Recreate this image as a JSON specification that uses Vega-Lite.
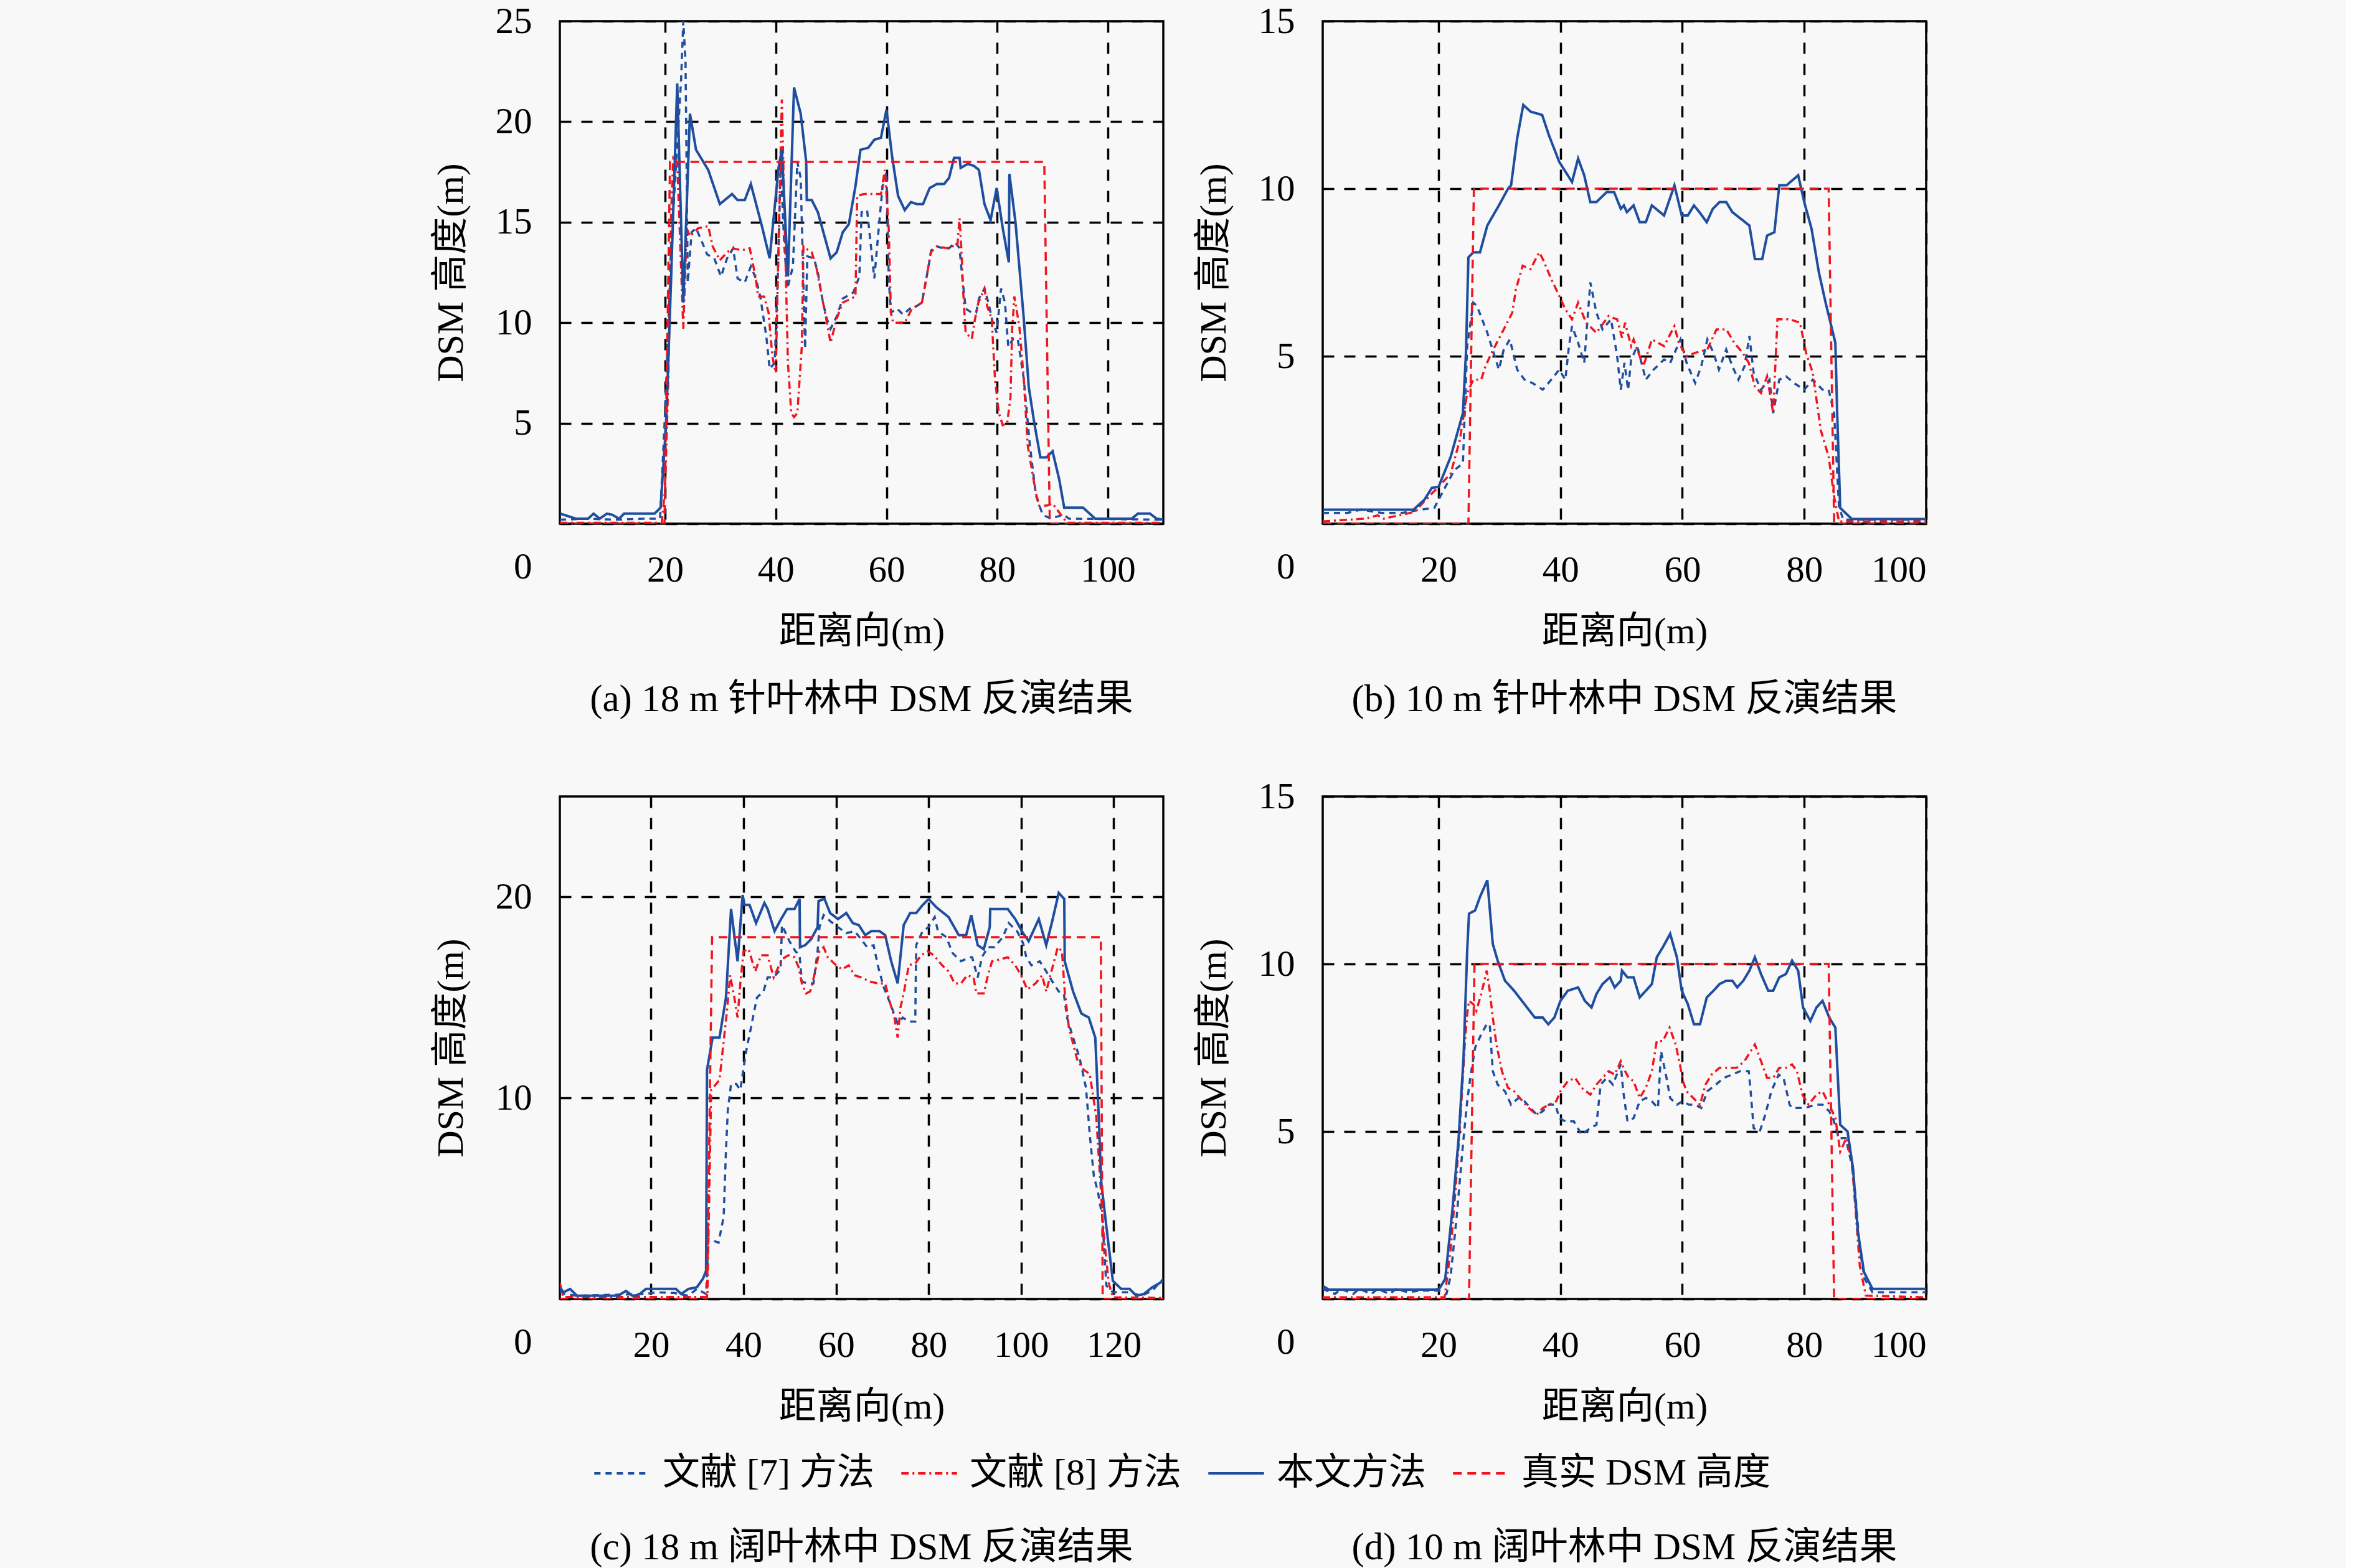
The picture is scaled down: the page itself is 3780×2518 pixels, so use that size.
{
  "$schema": "https://vega.github.io/schema/vega-lite/v6.json",
  "background": "#f8f8f8",
  "padding": {"left": 692, "top": 3, "right": 672, "bottom": 0},
  "autosize": {"type": "pad"},
  "config": {
    "font": "Liberation Serif, Noto Sans CJK SC",
    "view": {"stroke": "black", "strokeWidth": 3.5},
    "axis": {
      "ticks": false, "domain": false, "grid": true,
      "gridColor": "black", "gridDash": [18, 16], "gridWidth": 3.5, "gridOpacity": 1,
      "labelFont": "Liberation Serif", "labelFontSize": 59, "labelColor": "black",
      "labelPadding": 45,
      "titleFont": "Liberation Serif, Noto Sans CJK SC", "titleFontSize": 60,
      "titleFontWeight": "normal", "titleColor": "black", "titlePadding": 40
    },
    "title": {
      "orient": "bottom", "anchor": "middle", "frame": "group",
      "font": "Liberation Serif, Noto Sans CJK SC", "fontSize": 61,
      "fontWeight": "normal", "color": "black"
    },
    "legend": {
      "orient": "none", "legendX": 53, "legendY": 2285,
      "direction": "horizontal", "title": null,
      "symbolType": "stroke", "symbolSize": 8000, "symbolStrokeWidth": 4,
      "labelFont": "Liberation Serif, Noto Sans CJK SC", "labelFontSize": 60,
      "labelColor": "black", "labelOffset": 18, "labelLimit": 0, "columnPadding": 35
    }
  },
  "datasets": {
    "a7": [{"x":1,"y":0.2},{"x":6,"y":0.25},{"x":11,"y":0.2},{"x":16,"y":0.25},{"x":19.1,"y":0.25},{"x":20,"y":5.5},{"x":21.1,"y":13.8},{"x":22.2,"y":18.8},{"x":22.9,"y":22.1},{"x":23.3,"y":25},{"x":23.7,"y":23},{"x":24.1,"y":12},{"x":24.8,"y":14.5},{"x":25.6,"y":14.7},{"x":26.7,"y":14},{"x":27.6,"y":13.4},{"x":28.9,"y":13.2},{"x":30.1,"y":12.3},{"x":31.2,"y":13.2},{"x":32.3,"y":13.7},{"x":33.1,"y":12.2},{"x":34.4,"y":12},{"x":35.5,"y":12.8},{"x":36.4,"y":12.2},{"x":37.2,"y":11.3},{"x":38.3,"y":9.3},{"x":38.9,"y":7.7},{"x":39.8,"y":8},{"x":40.4,"y":12.5},{"x":40.9,"y":18},{"x":41.5,"y":14},{"x":42.1,"y":11.7},{"x":43.1,"y":12.8},{"x":43.9,"y":18},{"x":44.5,"y":17.2},{"x":45.3,"y":8.7},{"x":45.7,"y":13.3},{"x":46.9,"y":13.2},{"x":47.6,"y":12.5},{"x":48.4,"y":11.2},{"x":49.1,"y":10.3},{"x":49.9,"y":9.7},{"x":51,"y":10.3},{"x":52.1,"y":11.2},{"x":54,"y":11.5},{"x":55.1,"y":12.3},{"x":55.5,"y":15.5},{"x":56.5,"y":15.6},{"x":57.8,"y":12.2},{"x":58.6,"y":14.7},{"x":59.3,"y":16.8},{"x":60,"y":17.5},{"x":60.4,"y":12.2},{"x":60.8,"y":10.5},{"x":61.9,"y":10.7},{"x":63,"y":10.4},{"x":64.2,"y":10.7},{"x":65.3,"y":10.8},{"x":66.4,"y":11},{"x":67.2,"y":12.2},{"x":68.1,"y":13.6},{"x":69.1,"y":13.8},{"x":70.2,"y":13.7},{"x":71.3,"y":13.7},{"x":72.4,"y":14},{"x":73.2,"y":13.7},{"x":73.6,"y":12.5},{"x":74.3,"y":10.7},{"x":75.4,"y":10.5},{"x":76.2,"y":10.5},{"x":76.7,"y":11.2},{"x":77.7,"y":11.7},{"x":78.4,"y":11},{"x":79.2,"y":10},{"x":79.9,"y":9.5},{"x":80.7,"y":11.7},{"x":81.4,"y":11},{"x":82,"y":8.8},{"x":82.9,"y":9.2},{"x":83.7,"y":9.2},{"x":84.8,"y":7.2},{"x":85.9,"y":3.9},{"x":87,"y":1.4},{"x":88.2,"y":0.45},{"x":89.7,"y":0.25},{"x":91.9,"y":0.45},{"x":93,"y":0.25},{"x":110,"y":0.2}],
    "a8": [{"x":1,"y":0.05},{"x":19.4,"y":0.05},{"x":20,"y":1.7},{"x":20.6,"y":7.2},{"x":21.1,"y":15.5},{"x":21.5,"y":18.2},{"x":22.2,"y":18},{"x":23.3,"y":9.7},{"x":23.9,"y":14.7},{"x":24.5,"y":14.3},{"x":26,"y":14.7},{"x":27.8,"y":14.8},{"x":28.6,"y":13.8},{"x":29.9,"y":13.1},{"x":31.2,"y":13.5},{"x":32.3,"y":13.7},{"x":33.8,"y":13.6},{"x":35.3,"y":13.7},{"x":36.4,"y":12.2},{"x":36.8,"y":11.3},{"x":37.9,"y":11.3},{"x":38.7,"y":10.5},{"x":39.4,"y":8.3},{"x":40,"y":7.5},{"x":40.5,"y":13.8},{"x":41.1,"y":21.1},{"x":41.7,"y":13.8},{"x":42.2,"y":8},{"x":42.8,"y":5.5},{"x":43.3,"y":5.3},{"x":43.9,"y":5.5},{"x":44.7,"y":8.8},{"x":45,"y":13.8},{"x":45.4,"y":13.7},{"x":46.5,"y":13.5},{"x":47.3,"y":12.8},{"x":48.4,"y":11.2},{"x":49.1,"y":10.2},{"x":49.9,"y":9},{"x":51,"y":10.2},{"x":52.1,"y":11},{"x":54.4,"y":11.3},{"x":54.7,"y":16.3},{"x":55.9,"y":16.4},{"x":59,"y":16.4},{"x":59.7,"y":17.6},{"x":60.4,"y":14.7},{"x":60.8,"y":10.5},{"x":61.2,"y":10},{"x":63.3,"y":10},{"x":64.6,"y":10.7},{"x":66.4,"y":11},{"x":67.2,"y":12.2},{"x":68,"y":13.5},{"x":69.1,"y":13.8},{"x":71,"y":13.7},{"x":71.7,"y":13.8},{"x":72.8,"y":13.8},{"x":73.2,"y":15.2},{"x":73.5,"y":13.8},{"x":73.9,"y":11.3},{"x":74.3,"y":9.5},{"x":75.4,"y":9.2},{"x":76,"y":10.2},{"x":76.6,"y":11},{"x":77.7,"y":11.7},{"x":78.2,"y":10.8},{"x":79,"y":10.2},{"x":79.6,"y":7.2},{"x":80.3,"y":5.5},{"x":81,"y":4.9},{"x":81.8,"y":5},{"x":82.4,"y":6.3},{"x":82.7,"y":9.7},{"x":83.1,"y":11.3},{"x":84,"y":9.8},{"x":84.8,"y":7.2},{"x":85.5,"y":3.9},{"x":87,"y":1.5},{"x":87.6,"y":0.9},{"x":88.9,"y":0.9},{"x":90,"y":1},{"x":90.8,"y":0.7},{"x":92.6,"y":0.05},{"x":110,"y":0.05}],
    "ao": [{"x":1.1,"y":0.5},{"x":3.9,"y":0.25},{"x":6.1,"y":0.25},{"x":7.1,"y":0.5},{"x":8.2,"y":0.25},{"x":9.5,"y":0.5},{"x":10.4,"y":0.45},{"x":11.7,"y":0.25},{"x":12.6,"y":0.5},{"x":18.1,"y":0.5},{"x":19.2,"y":0.8},{"x":20.2,"y":5},{"x":21.1,"y":12.2},{"x":22.2,"y":21.9},{"x":23.3,"y":11},{"x":24.5,"y":20.4},{"x":25.6,"y":18.6},{"x":27.8,"y":17.6},{"x":29.9,"y":15.9},{"x":32.1,"y":16.4},{"x":33.1,"y":16.1},{"x":34.4,"y":16.1},{"x":35.5,"y":16.9},{"x":37.5,"y":14.8},{"x":38.9,"y":13.2},{"x":40.5,"y":17.7},{"x":41.1,"y":18.6},{"x":42.2,"y":12.3},{"x":43.3,"y":21.7},{"x":44.5,"y":20.4},{"x":45.5,"y":18},{"x":45.6,"y":16.1},{"x":46.5,"y":16.1},{"x":47.6,"y":15.5},{"x":48.8,"y":14.3},{"x":49.9,"y":13.2},{"x":51,"y":13.5},{"x":52.1,"y":14.5},{"x":53.2,"y":14.9},{"x":54.4,"y":16.8},{"x":55.3,"y":18.6},{"x":56.7,"y":18.7},{"x":57.8,"y":19.1},{"x":59,"y":19.2},{"x":60,"y":20.6},{"x":61,"y":18.3},{"x":62.1,"y":16.3},{"x":63.3,"y":15.6},{"x":64.4,"y":16},{"x":65.5,"y":15.9},{"x":66.6,"y":15.9},{"x":67.8,"y":16.7},{"x":69.1,"y":16.9},{"x":70.4,"y":16.9},{"x":71.3,"y":17.2},{"x":72.2,"y":18.2},{"x":73.2,"y":18.2},{"x":73.4,"y":17.7},{"x":74.7,"y":17.9},{"x":75.8,"y":17.8},{"x":76.7,"y":17.6},{"x":77.7,"y":15.9},{"x":78.8,"y":15.1},{"x":79.9,"y":16.7},{"x":81,"y":14.7},{"x":82.1,"y":13},{"x":82.2,"y":17.4},{"x":83.3,"y":15},{"x":84.8,"y":10.2},{"x":85.7,"y":6.8},{"x":86.7,"y":5},{"x":87.8,"y":3.3},{"x":88.9,"y":3.3},{"x":90,"y":3.6},{"x":91.2,"y":2.2},{"x":92.1,"y":0.8},{"x":95.5,"y":0.8},{"x":97.7,"y":0.25},{"x":104.3,"y":0.25},{"x":105.4,"y":0.5},{"x":107.6,"y":0.5},{"x":108.8,"y":0.25},{"x":110,"y":0.2}],
    "at": [{"x":1,"y":0},{"x":19.9,"y":0},{"x":20.9,"y":18},{"x":88.5,"y":18},{"x":89.5,"y":0},{"x":110,"y":0}],
    "b7": [{"x":1,"y":0.32},{"x":5,"y":0.32},{"x":7.3,"y":0.42},{"x":10.7,"y":0.32},{"x":14,"y":0.32},{"x":17,"y":0.42},{"x":19.3,"y":0.47},{"x":20.6,"y":0.92},{"x":22.6,"y":1.6},{"x":24,"y":1.8},{"x":24.7,"y":5.3},{"x":25.7,"y":6.6},{"x":26.3,"y":6.5},{"x":28,"y":5.7},{"x":29.9,"y":4.6},{"x":30.7,"y":5.2},{"x":31.7,"y":5.5},{"x":32.9,"y":4.6},{"x":34.1,"y":4.3},{"x":35.4,"y":4.2},{"x":37.1,"y":4},{"x":38.5,"y":4.3},{"x":39.8,"y":4.6},{"x":40.8,"y":4.3},{"x":41.4,"y":5.3},{"x":41.9,"y":5.9},{"x":42.9,"y":5.4},{"x":43.9,"y":4.8},{"x":44.9,"y":7.2},{"x":45.9,"y":6.3},{"x":46.9,"y":5.8},{"x":48.3,"y":6.1},{"x":49.3,"y":5},{"x":49.9,"y":4},{"x":50.5,"y":4.8},{"x":51.1,"y":4},{"x":51.6,"y":4.9},{"x":52.6,"y":5.3},{"x":54,"y":4.3},{"x":55.3,"y":4.6},{"x":57,"y":4.9},{"x":58,"y":4.8},{"x":59.7,"y":5.5},{"x":60.7,"y":4.8},{"x":62.1,"y":4.2},{"x":63.1,"y":4.7},{"x":64.1,"y":5.5},{"x":65.1,"y":5.1},{"x":66,"y":4.6},{"x":67.2,"y":5.2},{"x":68.2,"y":4.7},{"x":69.2,"y":4.3},{"x":70.2,"y":4.7},{"x":71,"y":5.6},{"x":71.7,"y":4.5},{"x":72.9,"y":4},{"x":74.3,"y":4.3},{"x":74.9,"y":3.3},{"x":75.9,"y":4.3},{"x":77,"y":4.4},{"x":78.3,"y":4.2},{"x":80,"y":4},{"x":81.4,"y":4.3},{"x":83,"y":4},{"x":84,"y":4},{"x":84.9,"y":3.3},{"x":85.7,"y":0.5},{"x":86.4,"y":0.12},{"x":100,"y":0.12}],
    "b8": [{"x":1,"y":0.07},{"x":8,"y":0.15},{"x":10,"y":0.25},{"x":11,"y":0.15},{"x":16,"y":0.35},{"x":18.9,"y":0.9},{"x":20,"y":1.1},{"x":22,"y":1.5},{"x":23.5,"y":2.5},{"x":24.7,"y":3.9},{"x":25.7,"y":4.3},{"x":27,"y":4.3},{"x":27.7,"y":4.7},{"x":28.7,"y":5.1},{"x":30.7,"y":5.8},{"x":32.1,"y":6.3},{"x":32.7,"y":7},{"x":33.8,"y":7.7},{"x":35.1,"y":7.6},{"x":36.5,"y":8.1},{"x":37.1,"y":7.9},{"x":38.5,"y":7.3},{"x":39.8,"y":6.8},{"x":40.8,"y":6.4},{"x":41.9,"y":6.1},{"x":42.9,"y":6.6},{"x":44.2,"y":6},{"x":45.9,"y":5.7},{"x":47.9,"y":6.2},{"x":49.3,"y":6.1},{"x":50.1,"y":5.55},{"x":50.6,"y":6},{"x":51.6,"y":5.3},{"x":52,"y":5.5},{"x":53.6,"y":4.7},{"x":55,"y":5.5},{"x":57,"y":5.3},{"x":58.7,"y":5.9},{"x":59.4,"y":5.4},{"x":60.7,"y":5},{"x":62.1,"y":5.1},{"x":64.1,"y":5.2},{"x":65.6,"y":5.8},{"x":67.2,"y":5.8},{"x":68.5,"y":5.4},{"x":69.9,"y":5.1},{"x":70.9,"y":4.8},{"x":71.9,"y":4.1},{"x":72.9,"y":3.9},{"x":73.9,"y":4.4},{"x":74.9,"y":3.3},{"x":75.6,"y":6.1},{"x":77.6,"y":6.1},{"x":79.3,"y":6},{"x":80.3,"y":5.1},{"x":81.4,"y":4.5},{"x":82.7,"y":2.8},{"x":84,"y":2},{"x":84.9,"y":0.8},{"x":85.7,"y":0.07},{"x":100,"y":0.07}],
    "bo": [{"x":1.1,"y":0.42},{"x":15.9,"y":0.42},{"x":17.7,"y":0.72},{"x":18.9,"y":1.07},{"x":20,"y":1.1},{"x":22,"y":2},{"x":24,"y":3.3},{"x":24.5,"y":5.1},{"x":24.9,"y":7.95},{"x":25.7,"y":8.1},{"x":26.8,"y":8.1},{"x":28,"y":8.9},{"x":29.9,"y":9.5},{"x":31.4,"y":10},{"x":31.9,"y":10.1},{"x":32.9,"y":11.5},{"x":33.9,"y":12.5},{"x":35.1,"y":12.3},{"x":37,"y":12.2},{"x":38.1,"y":11.6},{"x":39.8,"y":10.8},{"x":41.9,"y":10.2},{"x":42.9,"y":10.9},{"x":43.9,"y":10.4},{"x":44.9,"y":9.6},{"x":45.9,"y":9.6},{"x":47.6,"y":9.9},{"x":48.8,"y":9.9},{"x":49.9,"y":9.4},{"x":50.4,"y":9.5},{"x":50.9,"y":9.3},{"x":52,"y":9.5},{"x":53,"y":9},{"x":54,"y":9},{"x":55,"y":9.5},{"x":57,"y":9.2},{"x":58.7,"y":10.1},{"x":59.9,"y":9.2},{"x":60.9,"y":9.2},{"x":61.9,"y":9.5},{"x":62.8,"y":9.3},{"x":64,"y":9},{"x":65,"y":9.4},{"x":66.1,"y":9.6},{"x":67.2,"y":9.6},{"x":68.2,"y":9.3},{"x":71,"y":8.9},{"x":71.9,"y":7.9},{"x":73.1,"y":7.9},{"x":73.9,"y":8.6},{"x":75.1,"y":8.7},{"x":75.9,"y":10.1},{"x":77.1,"y":10.1},{"x":79,"y":10.4},{"x":80,"y":9.6},{"x":81.2,"y":8.8},{"x":82.4,"y":7.5},{"x":83.5,"y":6.6},{"x":85.1,"y":5.4},{"x":85.4,"y":3.3},{"x":85.9,"y":0.47},{"x":87.8,"y":0.14},{"x":100,"y":0.14}],
    "bt": [{"x":1,"y":0},{"x":24.9,"y":0},{"x":25.8,"y":10},{"x":84,"y":10},{"x":84.9,"y":0},{"x":100,"y":0}],
    "c7": [{"x":0.3,"y":0.4},{"x":1.2,"y":0.25},{"x":4,"y":0.16},{"x":10,"y":0.2},{"x":18.9,"y":0.25},{"x":21,"y":0.33},{"x":25,"y":0.3},{"x":28.1,"y":0.16},{"x":29.9,"y":0.5},{"x":31.9,"y":0.25},{"x":32.4,"y":3},{"x":34.6,"y":2.8},{"x":35.7,"y":4.1},{"x":36.2,"y":7.4},{"x":36.6,"y":9.4},{"x":37.3,"y":10.7},{"x":38.4,"y":10.7},{"x":39.3,"y":10.4},{"x":40,"y":11.5},{"x":40.7,"y":12.5},{"x":41.6,"y":13.5},{"x":42.2,"y":14.2},{"x":42.9,"y":15},{"x":44.3,"y":15.3},{"x":45.2,"y":16},{"x":46.5,"y":16},{"x":48,"y":16.4},{"x":48.3,"y":18.6},{"x":49.9,"y":17.8},{"x":51.2,"y":17.3},{"x":52.1,"y":17.1},{"x":52.6,"y":15.8},{"x":53.7,"y":15.7},{"x":55.1,"y":15.7},{"x":56,"y":17.3},{"x":56.4,"y":18.5},{"x":57.3,"y":19.1},{"x":58.7,"y":18.8},{"x":60.4,"y":18.5},{"x":62.2,"y":18.2},{"x":64,"y":18.3},{"x":65.4,"y":17.9},{"x":66.7,"y":17.5},{"x":68.1,"y":17.6},{"x":69,"y":16.6},{"x":70.3,"y":15.5},{"x":71.7,"y":14.7},{"x":73.3,"y":13.7},{"x":74.4,"y":14},{"x":75.7,"y":13.8},{"x":77.1,"y":13.8},{"x":77.3,"y":17.6},{"x":78.7,"y":18.3},{"x":80,"y":18.5},{"x":81.3,"y":19},{"x":82,"y":18.3},{"x":83.8,"y":18},{"x":85.2,"y":17.2},{"x":87,"y":16.8},{"x":88.8,"y":17},{"x":89.4,"y":17},{"x":90.1,"y":16.4},{"x":90.6,"y":16},{"x":91.5,"y":17},{"x":92.8,"y":17.5},{"x":94.2,"y":17.5},{"x":96,"y":18},{"x":97.3,"y":18.7},{"x":99.1,"y":18.3},{"x":100.4,"y":17.7},{"x":101.1,"y":17},{"x":102.2,"y":16.6},{"x":104,"y":16.8},{"x":105.4,"y":16.3},{"x":106.7,"y":15.8},{"x":108.1,"y":15.3},{"x":109.2,"y":15.2},{"x":109.9,"y":14},{"x":110.8,"y":13.3},{"x":112.6,"y":12},{"x":114,"y":10.5},{"x":114.8,"y":8.2},{"x":115.7,"y":6.1},{"x":116.6,"y":5.3},{"x":117.5,"y":4.1},{"x":118.4,"y":0.66},{"x":119.8,"y":0.33},{"x":123.4,"y":0.33},{"x":126,"y":0.16},{"x":128.3,"y":0.41},{"x":130.7,"y":1}],
    "c8": [{"x":0.3,"y":0.8},{"x":1,"y":0.1},{"x":32.1,"y":0.1},{"x":32.2,"y":0.33},{"x":33,"y":10.4},{"x":34.8,"y":10.9},{"x":35.5,"y":12.4},{"x":36.4,"y":14.3},{"x":37.1,"y":16.1},{"x":38,"y":15},{"x":38.7,"y":14},{"x":39.3,"y":15.7},{"x":40,"y":17.3},{"x":41.1,"y":17.4},{"x":42.5,"y":16.3},{"x":43.8,"y":17.1},{"x":45.2,"y":17.1},{"x":46.5,"y":16},{"x":48.3,"y":16.9},{"x":49.7,"y":17.1},{"x":51,"y":17},{"x":51.9,"y":16.5},{"x":52.6,"y":15.7},{"x":53.5,"y":15.2},{"x":54.4,"y":15.3},{"x":55.5,"y":16.3},{"x":56.4,"y":17.3},{"x":57.3,"y":17.5},{"x":58.2,"y":17},{"x":60,"y":16.6},{"x":61.3,"y":16.4},{"x":62.7,"y":16.6},{"x":64,"y":16.1},{"x":65.4,"y":16},{"x":67.2,"y":15.8},{"x":69,"y":15.7},{"x":70.6,"y":15.7},{"x":71.7,"y":14.7},{"x":72.6,"y":14},{"x":73.3,"y":13},{"x":73.9,"y":14.5},{"x":74.6,"y":15.2},{"x":75.7,"y":16.6},{"x":77.1,"y":16.7},{"x":78.4,"y":17.1},{"x":79.8,"y":17.3},{"x":81.1,"y":17.1},{"x":82.9,"y":16.6},{"x":84.3,"y":16.3},{"x":85.6,"y":15.7},{"x":87,"y":15.7},{"x":88.3,"y":16.1},{"x":89.7,"y":16},{"x":90.3,"y":15.2},{"x":91.9,"y":15.2},{"x":92.8,"y":16.1},{"x":93.7,"y":16.8},{"x":95.5,"y":16.9},{"x":97.1,"y":17},{"x":98.7,"y":16.6},{"x":100,"y":16.1},{"x":101.3,"y":15.4},{"x":103.1,"y":15.7},{"x":104.5,"y":16.1},{"x":105.4,"y":15.3},{"x":106.3,"y":16.1},{"x":107.9,"y":17.5},{"x":108.8,"y":17.3},{"x":109.4,"y":15.3},{"x":110.3,"y":13.5},{"x":112.1,"y":11.9},{"x":113.5,"y":11.4},{"x":114.8,"y":11.2},{"x":116.2,"y":9.1},{"x":117.1,"y":5.8},{"x":117.8,"y":3.3},{"x":118.9,"y":0.8},{"x":119.8,"y":0.08},{"x":130.7,"y":0.05}],
    "co": [{"x":0.3,"y":0.58},{"x":1.1,"y":0.33},{"x":2.5,"y":0.5},{"x":4,"y":0.16},{"x":12.8,"y":0.16},{"x":14.6,"y":0.4},{"x":16,"y":0.16},{"x":17.3,"y":0.2},{"x":18.9,"y":0.5},{"x":25.4,"y":0.5},{"x":26.5,"y":0.25},{"x":28.1,"y":0.5},{"x":29.9,"y":0.58},{"x":31.2,"y":1},{"x":31.9,"y":1.4},{"x":32.1,"y":11.4},{"x":33.3,"y":13},{"x":34.8,"y":13},{"x":36.2,"y":15},{"x":37.3,"y":19.4},{"x":38.7,"y":16.8},{"x":39.8,"y":20.1},{"x":40.2,"y":19.6},{"x":41.3,"y":19.6},{"x":42.7,"y":18.7},{"x":44.5,"y":19.7},{"x":45.2,"y":19.4},{"x":46.7,"y":18.3},{"x":48.1,"y":18.9},{"x":49.4,"y":19.4},{"x":51,"y":19.4},{"x":52.1,"y":19.9},{"x":52.2,"y":17.5},{"x":53.3,"y":17.6},{"x":54.6,"y":17.9},{"x":56,"y":18.5},{"x":56.2,"y":19.8},{"x":57.5,"y":19.9},{"x":58.7,"y":19.2},{"x":60.4,"y":18.9},{"x":62.2,"y":19.2},{"x":63.6,"y":18.7},{"x":64.9,"y":18.6},{"x":66.3,"y":18.1},{"x":67.6,"y":18.3},{"x":69.4,"y":18.3},{"x":70.6,"y":18.1},{"x":71.9,"y":16.8},{"x":73.3,"y":15.7},{"x":74.6,"y":18.6},{"x":76,"y":19.2},{"x":77.3,"y":19.2},{"x":78.7,"y":19.6},{"x":80,"y":19.9},{"x":81.6,"y":19.5},{"x":84.3,"y":19},{"x":86.5,"y":18.1},{"x":88.1,"y":18.1},{"x":89.2,"y":19.1},{"x":90.6,"y":17.6},{"x":91.9,"y":17.4},{"x":93.2,"y":18.5},{"x":93.3,"y":19.4},{"x":97.1,"y":19.4},{"x":98.7,"y":18.9},{"x":100.4,"y":18.2},{"x":101.6,"y":17.8},{"x":103.8,"y":18.9},{"x":105.4,"y":17.6},{"x":106.7,"y":18.8},{"x":108.1,"y":20.2},{"x":109.3,"y":19.9},{"x":109.4,"y":16.8},{"x":111.2,"y":15.3},{"x":113,"y":14.2},{"x":114.6,"y":14},{"x":116,"y":13},{"x":116.6,"y":9.9},{"x":117.3,"y":5.8},{"x":118.4,"y":3.6},{"x":119.8,"y":0.9},{"x":121.6,"y":0.5},{"x":123.4,"y":0.5},{"x":124.9,"y":0.16},{"x":126.5,"y":0.25},{"x":128.3,"y":0.58},{"x":130.7,"y":0.9}],
    "ct": [{"x":0.3,"y":0},{"x":32.1,"y":0},{"x":33.2,"y":18},{"x":117.2,"y":18},{"x":117.6,"y":0},{"x":130.7,"y":0}],
    "d7": [{"x":1,"y":0.3},{"x":3,"y":0.15},{"x":4,"y":0.3},{"x":6,"y":0.15},{"x":7,"y":0.3},{"x":9,"y":0.15},{"x":10,"y":0.3},{"x":12,"y":0.15},{"x":13,"y":0.3},{"x":15,"y":0.2},{"x":17,"y":0.25},{"x":20,"y":0.25},{"x":21.3,"y":0.15},{"x":22,"y":0.7},{"x":23,"y":2.5},{"x":24,"y":4.6},{"x":24.7,"y":5.9},{"x":25.2,"y":6.6},{"x":26,"y":7.5},{"x":27,"y":7.9},{"x":27.9,"y":8.2},{"x":28.4,"y":8.2},{"x":28.9,"y":6.8},{"x":29.7,"y":6.4},{"x":30.9,"y":6.2},{"x":31.9,"y":5.8},{"x":33.1,"y":6},{"x":34.1,"y":5.9},{"x":35.1,"y":5.7},{"x":36.1,"y":5.5},{"x":37.1,"y":5.6},{"x":38.1,"y":5.8},{"x":39.2,"y":5.8},{"x":39.8,"y":5.4},{"x":40.8,"y":5.3},{"x":42.2,"y":5.3},{"x":43.5,"y":4.9},{"x":44.9,"y":5.1},{"x":45.9,"y":5.2},{"x":46.6,"y":6.4},{"x":47.6,"y":6.6},{"x":48.6,"y":6.4},{"x":49.9,"y":7},{"x":50.3,"y":6.2},{"x":51,"y":5.3},{"x":52,"y":5.4},{"x":53,"y":5.9},{"x":54,"y":6},{"x":55,"y":5.9},{"x":56,"y":5.7},{"x":56.5,"y":7.4},{"x":57.4,"y":6.6},{"x":58,"y":6},{"x":59.1,"y":5.8},{"x":60,"y":5.9},{"x":61.1,"y":5.8},{"x":62.1,"y":5.8},{"x":63.1,"y":5.7},{"x":64.1,"y":6.2},{"x":65.5,"y":6.4},{"x":66.8,"y":6.6},{"x":68.2,"y":6.7},{"x":69.5,"y":6.8},{"x":70.9,"y":6.8},{"x":71.2,"y":6.2},{"x":71.7,"y":5.1},{"x":72.7,"y":5},{"x":73.6,"y":5.5},{"x":74.6,"y":6.2},{"x":75.8,"y":6.7},{"x":76.6,"y":6.6},{"x":77.6,"y":5.8},{"x":78,"y":5.7},{"x":80,"y":5.7},{"x":82,"y":5.8},{"x":83,"y":5.8},{"x":84.1,"y":5.6},{"x":84.7,"y":5.4},{"x":85.7,"y":4.8},{"x":86.8,"y":4.8},{"x":87.8,"y":4},{"x":88.4,"y":3.1},{"x":89.1,"y":1.5},{"x":89.9,"y":0.6},{"x":91.2,"y":0.2},{"x":100,"y":0.2}],
    "d8": [{"x":1,"y":0.05},{"x":21,"y":0.05},{"x":22,"y":1.5},{"x":22.8,"y":3.3},{"x":23.6,"y":5.4},{"x":24.3,"y":7.6},{"x":24.7,"y":8.5},{"x":25,"y":8.9},{"x":25.7,"y":8.8},{"x":26.2,"y":8.6},{"x":27,"y":9.1},{"x":27.9,"y":9.8},{"x":28.4,"y":9.2},{"x":28.9,"y":8.4},{"x":29.5,"y":7.6},{"x":30.4,"y":6.8},{"x":31.4,"y":6.3},{"x":32.4,"y":6.2},{"x":33.8,"y":5.9},{"x":34.8,"y":5.7},{"x":36.1,"y":5.5},{"x":37.1,"y":5.7},{"x":38.1,"y":5.8},{"x":39.3,"y":5.9},{"x":40,"y":6.2},{"x":41.2,"y":6.5},{"x":42.4,"y":6.6},{"x":43.5,"y":6.3},{"x":44.9,"y":6.1},{"x":45.9,"y":6.4},{"x":46.9,"y":6.6},{"x":47.9,"y":6.8},{"x":48.9,"y":6.7},{"x":49.9,"y":7.1},{"x":50.6,"y":6.8},{"x":51.2,"y":6.6},{"x":52,"y":6.5},{"x":53,"y":6},{"x":54,"y":6.3},{"x":55,"y":6.8},{"x":55.8,"y":7.7},{"x":56.8,"y":7.7},{"x":57.9,"y":8.1},{"x":58.9,"y":7.6},{"x":59.6,"y":7},{"x":60.1,"y":6.5},{"x":60.7,"y":6.2},{"x":61.8,"y":6},{"x":62.9,"y":5.8},{"x":63.8,"y":6.4},{"x":64.8,"y":6.7},{"x":66.1,"y":6.9},{"x":67.5,"y":6.9},{"x":68.9,"y":6.9},{"x":70.2,"y":7.1},{"x":71.9,"y":7.6},{"x":72.9,"y":7.1},{"x":73.9,"y":6.6},{"x":74.9,"y":6.6},{"x":75.9,"y":6.9},{"x":77,"y":6.9},{"x":78,"y":7},{"x":78.8,"y":6.8},{"x":79.7,"y":6.1},{"x":80.7,"y":5.8},{"x":82,"y":6.1},{"x":83,"y":6.2},{"x":84.1,"y":5.8},{"x":85.1,"y":5.4},{"x":85.9,"y":4.4},{"x":86.9,"y":4.8},{"x":87.8,"y":4.1},{"x":88.4,"y":2.7},{"x":89.1,"y":1},{"x":90.1,"y":0.1},{"x":100,"y":0.05}],
    "do": [{"x":1,"y":0.39},{"x":2,"y":0.28},{"x":19.3,"y":0.28},{"x":20.1,"y":0.3},{"x":21.1,"y":0.6},{"x":22.3,"y":2.7},{"x":23.3,"y":4.8},{"x":24.1,"y":7.2},{"x":24.7,"y":10.4},{"x":25,"y":11.5},{"x":26,"y":11.6},{"x":26.8,"y":12},{"x":28,"y":12.5},{"x":28.9,"y":10.6},{"x":29.7,"y":10.1},{"x":30.9,"y":9.5},{"x":32.4,"y":9.2},{"x":34.1,"y":8.8},{"x":35.8,"y":8.4},{"x":37.1,"y":8.4},{"x":38,"y":8.2},{"x":39,"y":8.4},{"x":40,"y":8.9},{"x":41.2,"y":9.2},{"x":42.9,"y":9.3},{"x":44,"y":8.9},{"x":45.1,"y":8.7},{"x":45.9,"y":9.1},{"x":46.9,"y":9.4},{"x":48.1,"y":9.6},{"x":48.9,"y":9.3},{"x":49.9,"y":9.5},{"x":50.1,"y":9.8},{"x":51,"y":9.6},{"x":52,"y":9.6},{"x":53,"y":9},{"x":54,"y":9.2},{"x":55,"y":9.4},{"x":55.8,"y":10.2},{"x":56.8,"y":10.5},{"x":58,"y":10.9},{"x":59.1,"y":10.2},{"x":59.9,"y":9.2},{"x":60.9,"y":8.8},{"x":61.9,"y":8.2},{"x":62.9,"y":8.2},{"x":64,"y":9},{"x":65.1,"y":9.2},{"x":66.1,"y":9.4},{"x":67.2,"y":9.5},{"x":68.2,"y":9.5},{"x":69,"y":9.3},{"x":70,"y":9.5},{"x":71,"y":9.8},{"x":71.9,"y":10.2},{"x":72.9,"y":9.7},{"x":74.1,"y":9.2},{"x":74.9,"y":9.2},{"x":75.9,"y":9.6},{"x":77,"y":9.7},{"x":78,"y":10.1},{"x":79,"y":9.8},{"x":79.8,"y":8.7},{"x":81,"y":8.3},{"x":82,"y":8.7},{"x":83,"y":8.9},{"x":84.1,"y":8.4},{"x":85.1,"y":8.1},{"x":85.9,"y":5.2},{"x":87.1,"y":5},{"x":88,"y":3.9},{"x":88.8,"y":2},{"x":89.8,"y":0.8},{"x":91.2,"y":0.3},{"x":100,"y":0.3}],
    "dt": [{"x":1,"y":0},{"x":25,"y":0},{"x":25.9,"y":10},{"x":84,"y":10},{"x":84.9,"y":0},{"x":100,"y":0}]
  },
  "resolve": {"scale": {"x": "independent", "y": "independent"}},
  "spacing": 92,
  "vconcat": [
    {
      "resolve": {"scale": {"x": "independent", "y": "independent"}},
      "spacing": 47,
      "hconcat": [
        {
          "width": 969, "height": 807,
          "title": {"text": "(a) 18 m 针叶林中 DSM 反演结果", "offset": 50},
          "encoding": {
            "x": {"field": "x", "type": "quantitative", "scale": {"domain": [1, 110], "nice": false, "zero": false}, "axis": {"values": [20, 40, 60, 80, 100], "title": "距离向(m)"}},
            "y": {"field": "y", "type": "quantitative", "scale": {"domain": [0, 25], "nice": false}, "axis": {"values": [0, 5, 10, 15, 20, 25], "title": "DSM 高度(m)", "labelOffset": {"condition": {"test": "datum.value === 0", "value": 69}, "value": 0}}}
          },
          "layer": [
            {"data": {"name": "a7"}, "mark": {"type": "line", "strokeWidth": 3.5, "clip": true}, "encoding": {"color": {"datum": "文献 [7] 方法", "type": "nominal", "scale": {"domain": ["文献 [7] 方法", "文献 [8] 方法", "本文方法", "真实 DSM 高度"], "range": ["#1f4e9f", "#f0141e", "#1f4e9f", "#f0141e"]}}, "strokeDash": {"datum": "文献 [7] 方法", "type": "nominal", "scale": {"domain": ["文献 [7] 方法", "文献 [8] 方法", "本文方法", "真实 DSM 高度"], "range": [[10, 8], [12, 6, 3, 6], [1, 0], [14, 9]]}}}},
            {"data": {"name": "a8"}, "mark": {"type": "line", "strokeWidth": 3.5, "clip": true}, "encoding": {"color": {"datum": "文献 [8] 方法", "type": "nominal"}, "strokeDash": {"datum": "文献 [8] 方法", "type": "nominal"}}},
            {"data": {"name": "ao"}, "mark": {"type": "line", "strokeWidth": 4, "clip": true}, "encoding": {"color": {"datum": "本文方法", "type": "nominal"}, "strokeDash": {"datum": "本文方法", "type": "nominal"}}},
            {"data": {"name": "at"}, "mark": {"type": "line", "strokeWidth": 3.5, "clip": true}, "encoding": {"color": {"datum": "真实 DSM 高度", "type": "nominal"}, "strokeDash": {"datum": "真实 DSM 高度", "type": "nominal"}}}
          ]
        },
        {
          "width": 969, "height": 807,
          "title": {"text": "(b) 10 m 针叶林中 DSM 反演结果", "offset": 50},
          "encoding": {
            "x": {"field": "x", "type": "quantitative", "scale": {"domain": [1, 100], "nice": false, "zero": false}, "axis": {"values": [20, 40, 60, 80, 100], "title": "距离向(m)"}},
            "y": {"field": "y", "type": "quantitative", "scale": {"domain": [0, 15], "nice": false}, "axis": {"values": [0, 5, 10, 15], "title": "DSM 高度(m)", "labelOffset": {"condition": {"test": "datum.value === 0", "value": 69}, "value": 0}}}
          },
          "layer": [
            {"data": {"name": "b7"}, "mark": {"type": "line", "strokeWidth": 3.5, "clip": true}, "encoding": {"color": {"datum": "文献 [7] 方法", "type": "nominal"}, "strokeDash": {"datum": "文献 [7] 方法", "type": "nominal"}}},
            {"data": {"name": "b8"}, "mark": {"type": "line", "strokeWidth": 3.5, "clip": true}, "encoding": {"color": {"datum": "文献 [8] 方法", "type": "nominal"}, "strokeDash": {"datum": "文献 [8] 方法", "type": "nominal"}}},
            {"data": {"name": "bo"}, "mark": {"type": "line", "strokeWidth": 4, "clip": true}, "encoding": {"color": {"datum": "本文方法", "type": "nominal"}, "strokeDash": {"datum": "本文方法", "type": "nominal"}}},
            {"data": {"name": "bt"}, "mark": {"type": "line", "strokeWidth": 3.5, "clip": true}, "encoding": {"color": {"datum": "真实 DSM 高度", "type": "nominal"}, "strokeDash": {"datum": "真实 DSM 高度", "type": "nominal"}}}
          ]
        }
      ]
    },
    {
      "resolve": {"scale": {"x": "independent", "y": "independent"}},
      "spacing": 47,
      "hconcat": [
        {
          "width": 969, "height": 807,
          "title": {"text": "(c) 18 m 阔叶林中 DSM 反演结果", "offset": 167},
          "encoding": {
            "x": {"field": "x", "type": "quantitative", "scale": {"domain": [0.3, 130.7], "nice": false, "zero": false}, "axis": {"values": [20, 40, 60, 80, 100, 120], "title": "距离向(m)"}},
            "y": {"field": "y", "type": "quantitative", "scale": {"domain": [0, 25], "nice": false}, "axis": {"values": [0, 10, 20], "title": "DSM 高度(m)", "labelOffset": {"condition": {"test": "datum.value === 0", "value": 69}, "value": 0}}}
          },
          "layer": [
            {"data": {"name": "c7"}, "mark": {"type": "line", "strokeWidth": 3.5, "clip": true}, "encoding": {"color": {"datum": "文献 [7] 方法", "type": "nominal"}, "strokeDash": {"datum": "文献 [7] 方法", "type": "nominal"}}},
            {"data": {"name": "c8"}, "mark": {"type": "line", "strokeWidth": 3.5, "clip": true}, "encoding": {"color": {"datum": "文献 [8] 方法", "type": "nominal"}, "strokeDash": {"datum": "文献 [8] 方法", "type": "nominal"}}},
            {"data": {"name": "co"}, "mark": {"type": "line", "strokeWidth": 4, "clip": true}, "encoding": {"color": {"datum": "本文方法", "type": "nominal"}, "strokeDash": {"datum": "本文方法", "type": "nominal"}}},
            {"data": {"name": "ct"}, "mark": {"type": "line", "strokeWidth": 3.5, "clip": true}, "encoding": {"color": {"datum": "真实 DSM 高度", "type": "nominal"}, "strokeDash": {"datum": "真实 DSM 高度", "type": "nominal"}}}
          ]
        },
        {
          "width": 969, "height": 807,
          "title": {"text": "(d) 10 m 阔叶林中 DSM 反演结果", "offset": 167},
          "encoding": {
            "x": {"field": "x", "type": "quantitative", "scale": {"domain": [1, 100], "nice": false, "zero": false}, "axis": {"values": [20, 40, 60, 80, 100], "title": "距离向(m)"}},
            "y": {"field": "y", "type": "quantitative", "scale": {"domain": [0, 15], "nice": false}, "axis": {"values": [0, 5, 10, 15], "title": "DSM 高度(m)", "labelOffset": {"condition": {"test": "datum.value === 0", "value": 69}, "value": 0}}}
          },
          "layer": [
            {"data": {"name": "d7"}, "mark": {"type": "line", "strokeWidth": 3.5, "clip": true}, "encoding": {"color": {"datum": "文献 [7] 方法", "type": "nominal"}, "strokeDash": {"datum": "文献 [7] 方法", "type": "nominal"}}},
            {"data": {"name": "d8"}, "mark": {"type": "line", "strokeWidth": 3.5, "clip": true}, "encoding": {"color": {"datum": "文献 [8] 方法", "type": "nominal"}, "strokeDash": {"datum": "文献 [8] 方法", "type": "nominal"}}},
            {"data": {"name": "do"}, "mark": {"type": "line", "strokeWidth": 4, "clip": true}, "encoding": {"color": {"datum": "本文方法", "type": "nominal"}, "strokeDash": {"datum": "本文方法", "type": "nominal"}}},
            {"data": {"name": "dt"}, "mark": {"type": "line", "strokeWidth": 3.5, "clip": true}, "encoding": {"color": {"datum": "真实 DSM 高度", "type": "nominal"}, "strokeDash": {"datum": "真实 DSM 高度", "type": "nominal"}}}
          ]
        }
      ]
    }
  ]
}
